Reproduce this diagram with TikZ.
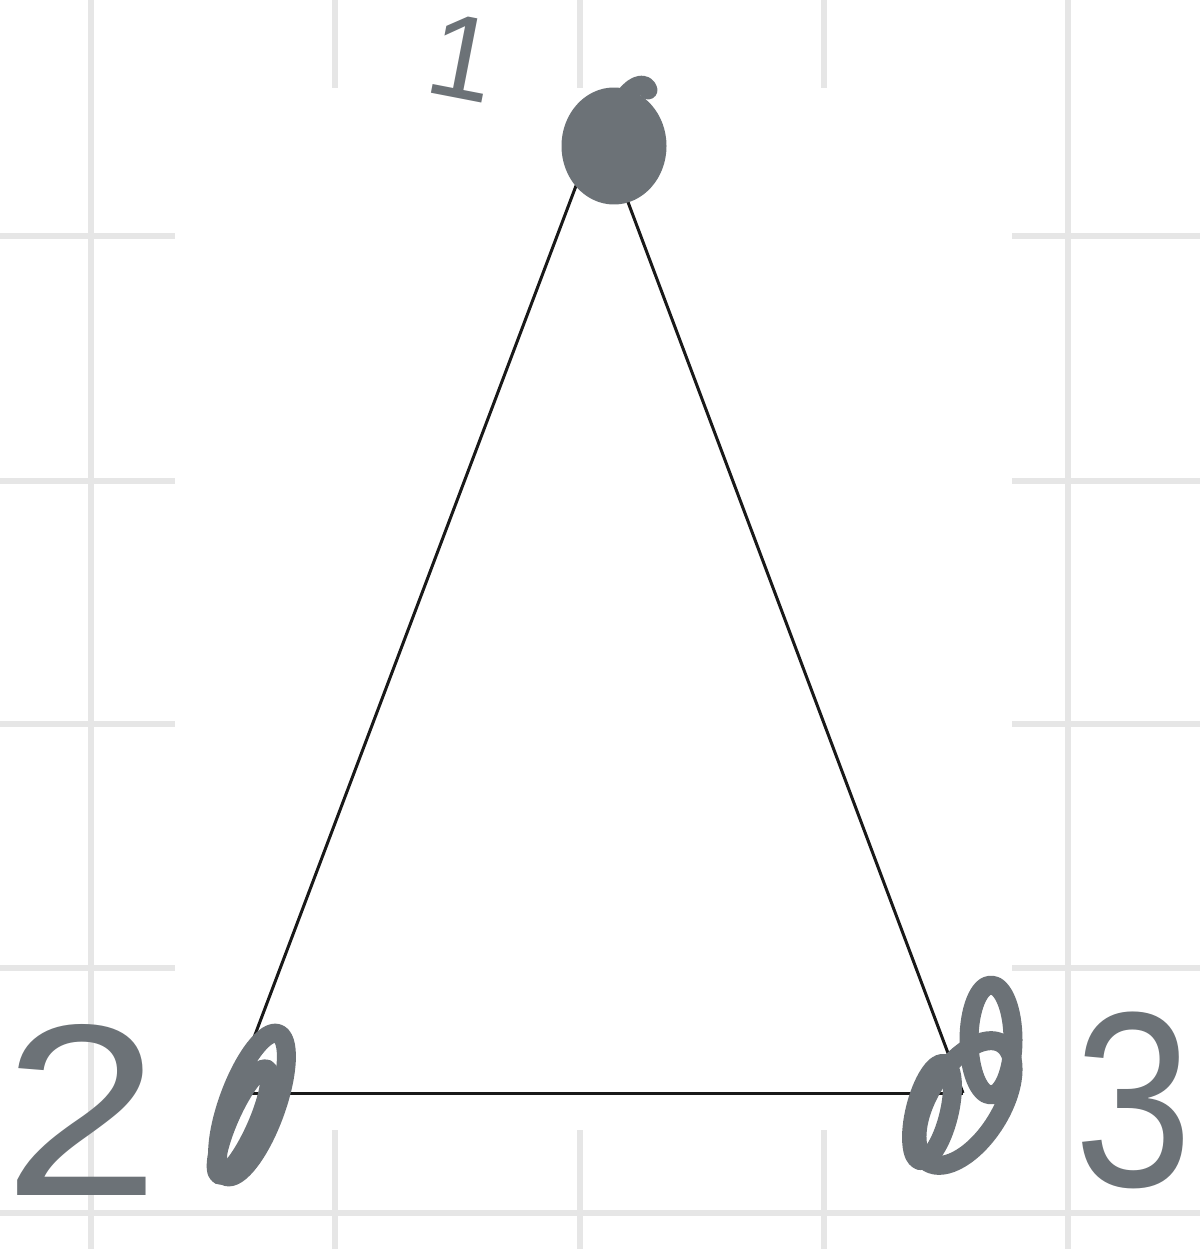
\documentclass[tikz,border=0pt]{standalone}
\usepackage{fontspec}
\setmainfont{Liberation Sans}
\usetikzlibrary{calc}

\definecolor{ink}{RGB}{108,114,119}
\definecolor{gridgray}{RGB}{230,230,230}

\begin{document}
\begin{tikzpicture}[
    x=1pt, y=-1pt,
    gridline/.style={
        draw=gridgray,
        line width=6.5pt
    },
    edge/.style={
        draw=black!90,
        line width=3pt
    },
    scribble/.style={
        draw=ink,
        line width=19pt,
        line cap=round,
        line join=round
    },
    digit/.style={
        text=ink,
        inner sep=0pt
    }
]

\useasboundingbox[fill=white] (0,0) rectangle (1200,1249);

% ============================================================
% Background grid
% ============================================================

\draw[gridline] (91,0) -- (91,1249);
\draw[gridline] (1068,0) -- (1068,1249);
\draw[gridline] (0,1213) -- (1200,1213);

\foreach \gx in {335,580,824}{
    \draw[gridline] (\gx,0) -- (\gx,88);
    \draw[gridline] (\gx,1130) -- (\gx,1249);
}

\foreach \gy in {236,481,724,968}{
    \draw[gridline] (0,\gy) -- (175,\gy);
    \draw[gridline] (1012,\gy) -- (1200,\gy);
}

% ============================================================
% Triangle
% ============================================================

\coordinate (top) at (599,125);
\coordinate (left) at (233,1093);
\coordinate (right) at (963,1093);

\draw[edge] (top) -- (left);
\draw[edge] (left) -- (right);
\draw[edge] (right) -- (top);

% ============================================================
% Vertex marks
% ============================================================

% top vertex
\filldraw[scribble, fill=ink] (614,146) ellipse (43 and 49);
\draw[scribble] (622,102) .. controls (630,86) and (645,80) .. (648,90);

% left vertex
\draw[scribble, rotate around={70:(252,1105)}]
    (252,1105) ellipse (76 and 24);
\draw[scribble, rotate around={66:(243,1122)}]
    (243,1122) ellipse (58 and 14);

% right vertex
\draw[scribble] (991,1040) ellipse (22 and 55);
\draw[scribble, rotate around={58:(965,1103)}]
    (965,1103) ellipse (70 and 36);
\draw[scribble, rotate around={76:(932,1112)}]
    (932,1112) ellipse (50 and 17);

% ============================================================
% Labels
% ============================================================

\node[digit, rotate=-11, font=\fontsize{119}{119}\selectfont]
(lab1) at (463,58) {1};

\node[digit, xscale=1.15, font=\fontsize{245}{245}\selectfont]
(lab2) at (82,1110) {2};

\node[digit, xscale=0.85, font=\fontsize{250}{250}\selectfont]
(lab3) at (1134,1100) {3};

\end{tikzpicture}
\end{document}
